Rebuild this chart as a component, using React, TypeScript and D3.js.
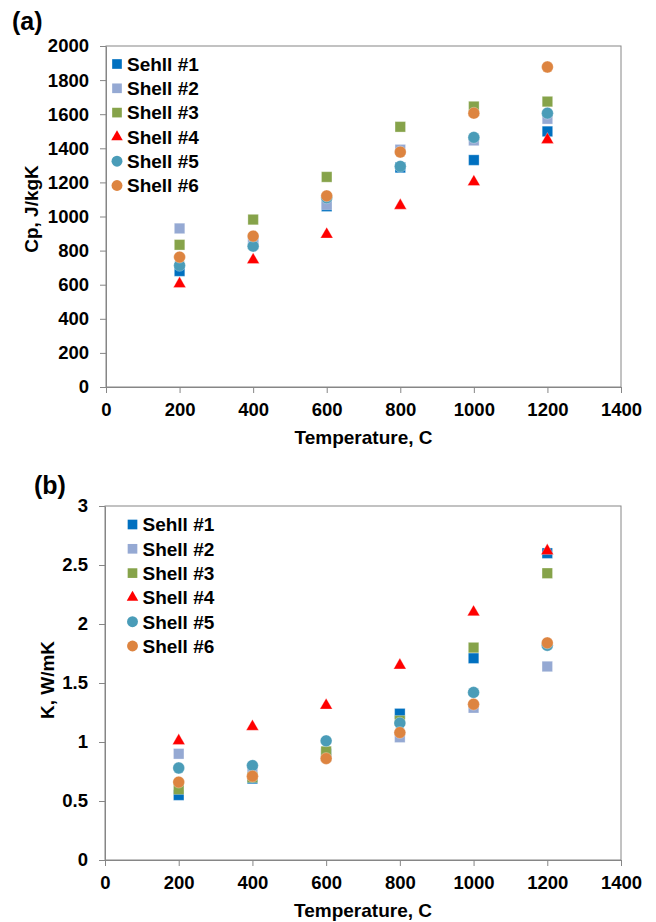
import { useEffect, useRef } from "react";
import * as d3 from "d3";

// temperatures (C)
const temps = [200, 400, 600, 800, 1000, 1200];
const shellNames = ["Sehll #1", "Shell #2", "Shell #3", "Shell #4", "Shell #5", "Shell #6"];
const shellColors = ["#0070C0", "#95A9D3", "#86A34A", "#FF0000", "#4A9CB8", "#DD8440"];
const shellShapes = ["square", "square", "square", "triangle", "circle", "circle"];

// (a) specific heat, J/kgK
const cpShell1 = [680, 850, 1060, 1287, 1331, 1499];
const cpShell2 = [930, 860, 1070, 1392, 1446, 1573];
const cpShell3 = [834, 982, 1232, 1526, 1645, 1674];
const cpShell4 = [605, 745, 895, 1064, 1203, 1450];
const cpShell5 = [713, 826, 1110, 1294, 1464, 1606];
const cpShell6 = [762, 885, 1121, 1378, 1606, 1877];

// (b) conductivity, W/mK
const kShell1 = [0.55, 0.69, 0.9, 1.24, 1.71, 2.6];
const kShell2 = [0.9, 0.75, 0.88, 1.04, 1.29, 1.64];
const kShell3 = [0.6, 0.7, 0.92, 1.18, 1.8, 2.43];
const kShell4 = [1.01, 1.13, 1.31, 1.65, 2.1, 2.62];
const kShell5 = [0.78, 0.8, 1.01, 1.16, 1.42, 1.82];
const kShell6 = [0.66, 0.71, 0.86, 1.08, 1.32, 1.84];

const xTicks = [0, 200, 400, 600, 800, 1000, 1200, 1400];
const cpTicks = [0, 200, 400, 600, 800, 1000, 1200, 1400, 1600, 1800, 2000];
const kTicks = [0, 0.5, 1, 1.5, 2, 2.5, 3];

const FONT = "'Liberation Sans', Arial, sans-serif";
const AXIS = "#868686";

const symbolFor = (shape: string, size: number) => {
  const type = shape === "square" ? d3.symbolSquare : shape === "triangle" ? d3.symbolTriangle : d3.symbolCircle;
  return d3.symbol().type(type).size(size)();
};
const sizeFor = (shape: string) => (shape === "square" ? 110 : shape === "triangle" ? 68 : 110);

const drawPanel = (svg: any, cfg: any) => {
  const { left, right, top, bottom, series, yMax, yTicks, tag, yTitle, yTitleX, yTitleY, tagX, tagY, legendX, legendY, xTitleY } = cfg;
  const g = svg.append("g");
  const x = d3.scaleLinear().domain([0, 1400]).range([left, right]);
  const y = d3.scaleLinear().domain([0, yMax]).range([bottom, top]);

  // plot border
  g.append("rect")
    .attr("x", left)
    .attr("y", top)
    .attr("width", right - left)
    .attr("height", bottom - top)
    .attr("fill", "none")
    .attr("stroke", AXIS);

  const styleAxis = (a: any) => {
    a.select(".domain").attr("stroke", AXIS);
    a.selectAll(".tick line").attr("stroke", AXIS);
    a.selectAll("text")
      .attr("fill", "#000")
      .style("font-family", FONT)
      .style("font-weight", "bold")
      .style("font-size", "18.5px");
  };

  g.append("g")
    .attr("transform", "translate(0," + bottom + ")")
    .call(d3.axisBottom(x).tickValues(xTicks).tickSize(6).tickSizeOuter(0).tickPadding(10).tickFormat(d3.format("d")))
    .call(styleAxis);

  g.append("g")
    .attr("transform", "translate(" + left + ",0)")
    .call(d3.axisLeft(y).tickValues(yTicks).tickSize(6).tickSizeOuter(0).tickPadding(11).tickFormat((d: any) => String(d)))
    .call(styleAxis);

  // points
  series.forEach((vals: number[], i: number) => {
    g.append("g")
      .selectAll("path")
      .data(vals)
      .enter()
      .append("path")
      .attr("d", symbolFor(shellShapes[i], sizeFor(shellShapes[i])))
      .attr("transform", (d: number, j: number) => "translate(" + x(temps[j]) + "," + y(d) + ")")
      .attr("fill", shellColors[i])
      .attr("stroke", "#fff")
      .attr("stroke-opacity", 0.5)
      .attr("stroke-width", 0.6);
  });

  // legend
  const leg = g.append("g").attr("transform", "translate(" + legendX + "," + legendY + ")");
  shellNames.forEach((name, i) => {
    const row = leg.append("g").attr("transform", "translate(0," + i * 24.3 + ")");
    row.append("path")
      .attr("d", symbolFor(shellShapes[i], sizeFor(shellShapes[i]) * 0.85))
      .attr("fill", shellColors[i]);
    row.append("text")
      .attr("x", 10)
      .attr("y", 6.8)
      .text(name)
      .style("font-family", FONT)
      .style("font-weight", "bold")
      .style("font-size", "19px");
  });

  // titles
  g.append("text")
    .attr("x", (left + right) / 2)
    .attr("y", xTitleY)
    .attr("text-anchor", "middle")
    .text("Temperature, C")
    .style("font-family", FONT)
    .style("font-weight", "bold")
    .style("font-size", "19px");

  g.append("text")
    .attr("transform", "translate(" + yTitleX + "," + yTitleY + ") rotate(-90)")
    .attr("text-anchor", "middle")
    .text(yTitle)
    .style("font-family", FONT)
    .style("font-weight", "bold")
    .style("font-size", "19px");

  g.append("text")
    .attr("x", tagX)
    .attr("y", tagY)
    .text(tag)
    .style("font-family", FONT)
    .style("font-weight", "bold")
    .style("font-size", "25px");
};

export default function App() {
  const ref = useRef<SVGSVGElement>(null);

  useEffect(() => {
    const svg = d3.select(ref.current);
    svg.selectAll("*").remove();

    drawPanel(svg, {
      left: 106,
      right: 621,
      top: 46,
      bottom: 387,
      yMax: 2000,
      yTicks: cpTicks,
      series: [cpShell1, cpShell2, cpShell3, cpShell4, cpShell5, cpShell6],
      tag: "(a)",
      tagX: 12,
      tagY: 30,
      yTitle: "Cp, J/kgK",
      yTitleX: 38,
      yTitleY: 209,
      legendX: 117,
      legendY: 64,
      xTitleY: 444,
    });

    drawPanel(svg, {
      left: 105,
      right: 621,
      top: 506,
      bottom: 860,
      yMax: 3,
      yTicks: kTicks,
      series: [kShell1, kShell2, kShell3, kShell4, kShell5, kShell6],
      tag: "(b)",
      tagX: 34,
      tagY: 494,
      yTitle: "K, W/mK",
      yTitleX: 54,
      yTitleY: 680,
      legendX: 132.5,
      legendY: 524.5,
      xTitleY: 917,
    });
  }, []);

  return (
    <svg
      ref={ref}
      width={656}
      height={922}
      style={{ position: "absolute", left: 0, top: 0, background: "#fff" }}
    />
  );
}
